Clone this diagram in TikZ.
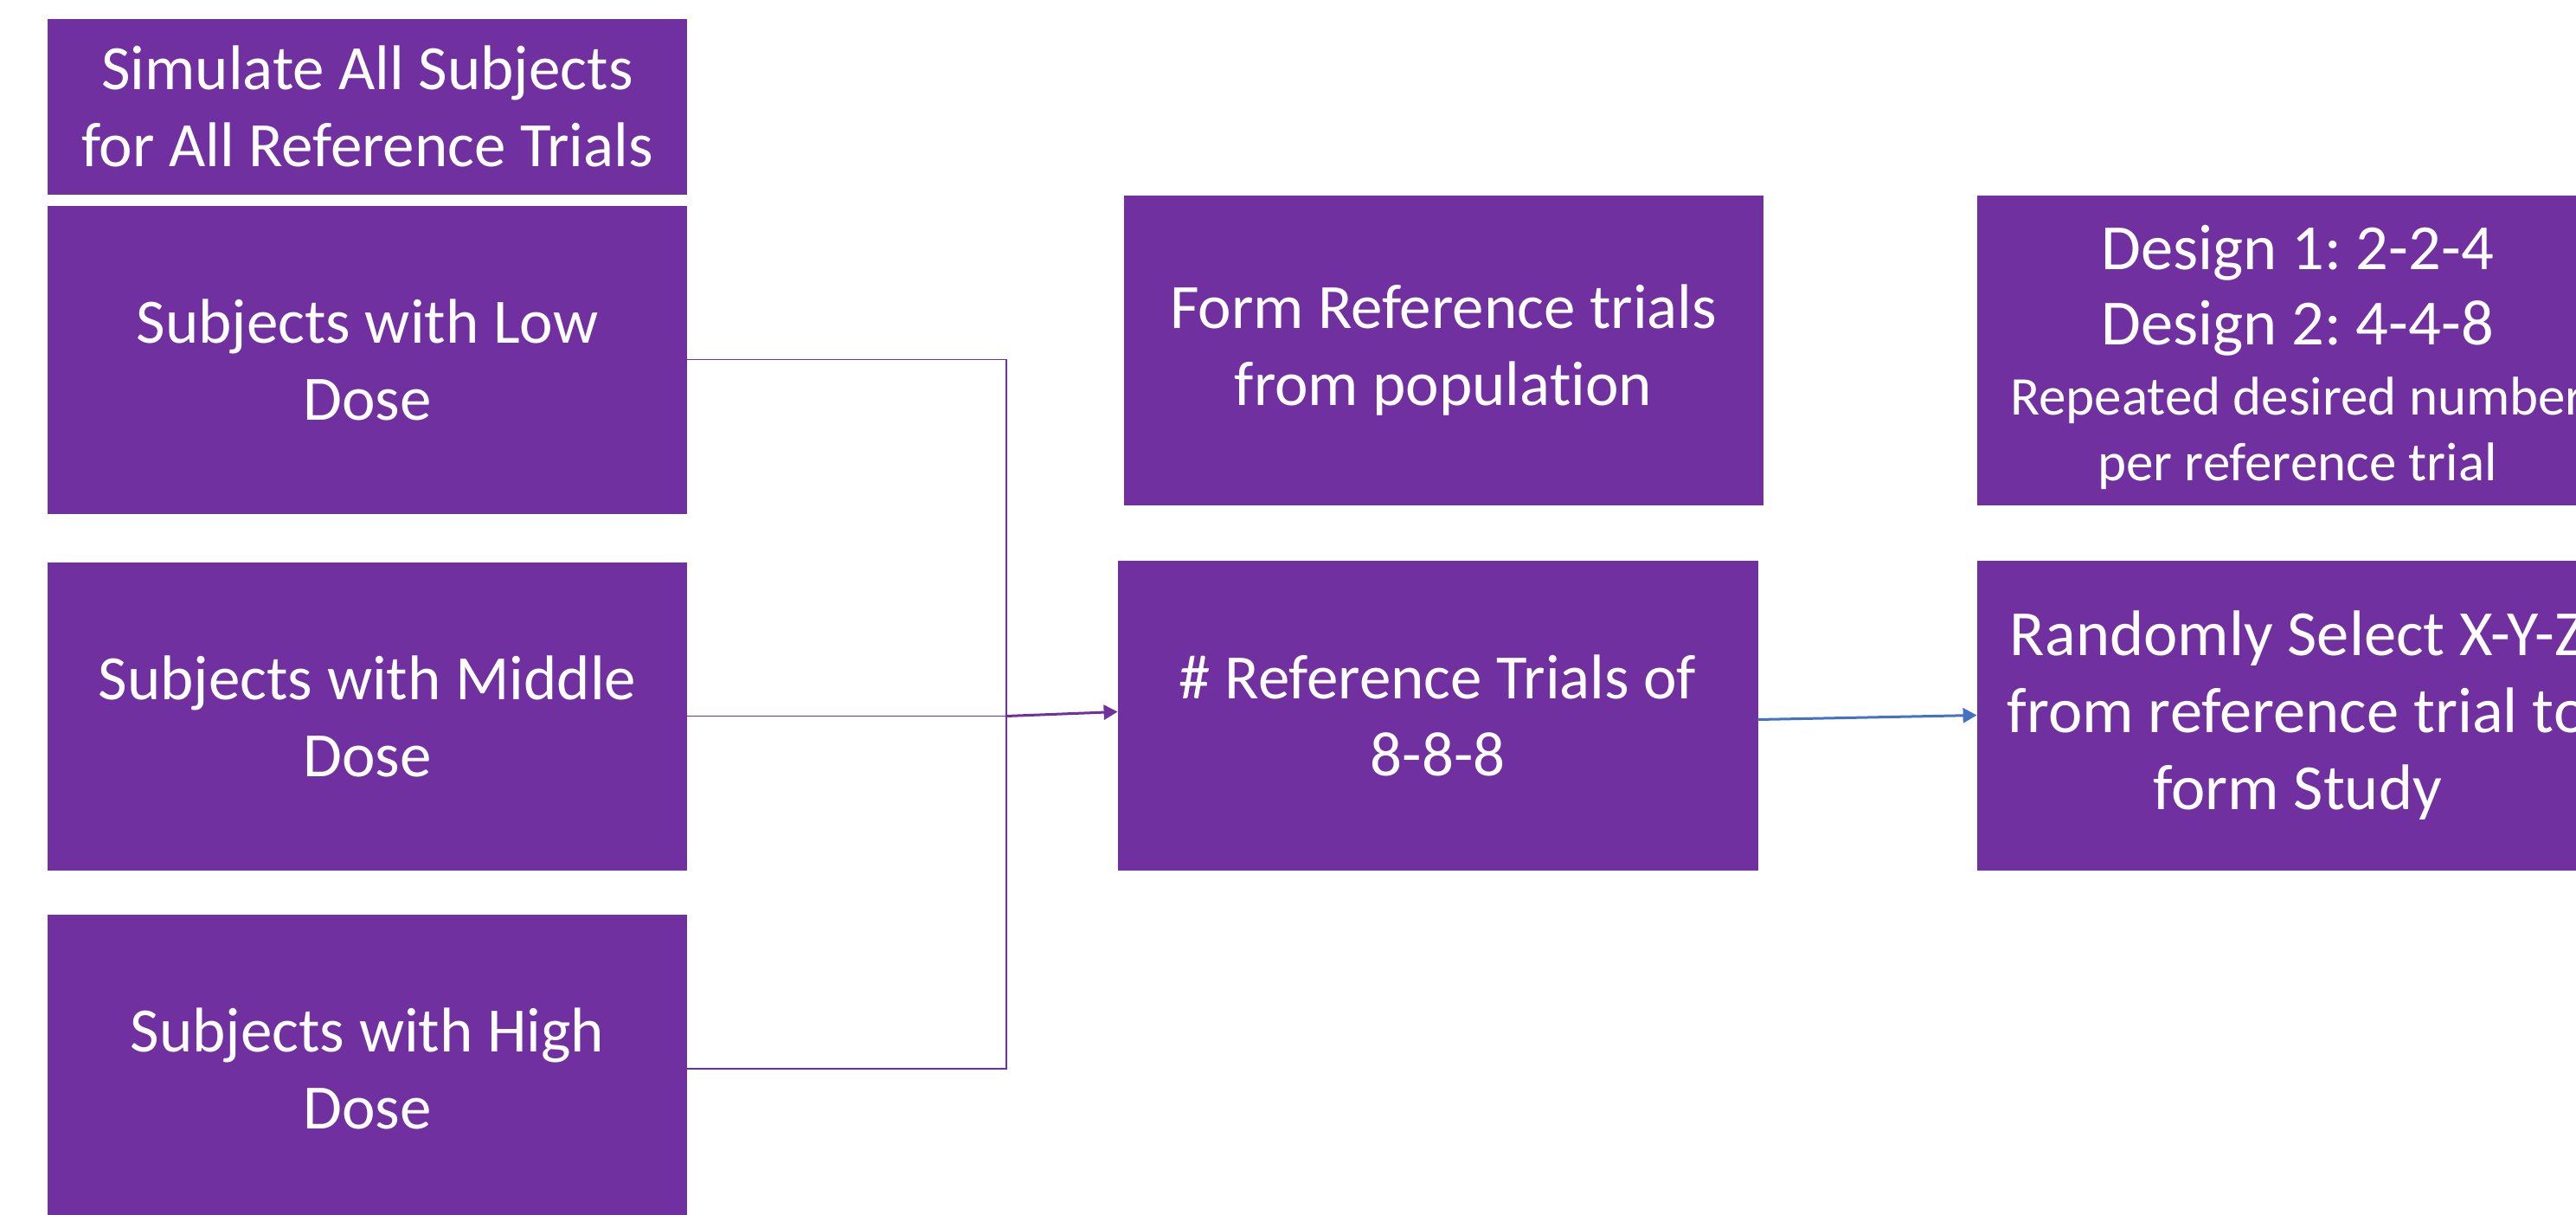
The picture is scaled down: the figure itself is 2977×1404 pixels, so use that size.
\documentclass[tikz,border=0pt]{standalone}
\usepackage{fontspec}
\setmainfont{Carlito}[Ligatures={NoCommon}]
\usetikzlibrary{arrows.meta}
\definecolor{boxpurple}{HTML}{7030A0}
\definecolor{arrowblue}{HTML}{4472C4}
\frenchspacing
\tikzset{
  box/.style={rectangle, fill=boxpurple, draw=boxpurple, line width=0.8pt,
    text=white, align=center, inner sep=0pt,
    font=\frenchspacing\fontsize{73}{89}\selectfont},
  bigbox/.style={box, font=\frenchspacing\fontsize{74.5}{89}\selectfont},
  conn/.style={draw=boxpurple, line width=1.6pt},
  mainarrow/.style={draw=boxpurple, line width=3pt, -{Triangle[length=16pt,width=17pt]}},
  bluearrow/.style={draw=arrowblue, line width=3pt, -{Triangle[length=16pt,width=17pt]}}
}
\begin{document}
\begin{tikzpicture}[x=1pt,y=-1pt]
\path[use as bounding box, clip] (0,0) rectangle (2977,1404);
\fill[white] (0,0) rectangle (2977,1404);

\node[box, minimum width=738pt, minimum height=202pt] (sim) at (424.5,123) {Simulate All Subjects\\for All Reference Trials};
\node[box, minimum width=738pt, minimum height=355pt] (low) at (424.5,415.5) {Subjects with Low\\Dose};
\node[box, minimum width=738pt, minimum height=355pt] (mid) at (424.5,827.5) {Subjects with Middle\\Dose};
\node[box, minimum width=738pt, minimum height=355pt] (high) at (424.5,1235) {Subjects with High\\Dose};

\node[box, minimum width=738pt, minimum height=357pt] (form) at (1668,404.5) {Form Reference trials\\from population};
\node[box, minimum width=739pt, minimum height=357pt] (ref) at (1661.5,826.5) {\# Reference Trials of\\8-8-8};

\node[box, minimum width=740pt, minimum height=357pt] (design) at (2655,404.5) {\begin{minipage}{740pt}\centering
\vspace*{16pt}\fontsize{74.5}{87}\selectfont Design 1: 2-2-4\par
Design 2: 4-4-8\par\vspace{5pt}
\fontsize{63}{76}\selectfont Repeated desired number\par
per reference trial\par
\end{minipage}};
\node[bigbox, minimum width=740pt, minimum height=357pt] (rand) at (2655,826.5) {Randomly Select X-Y-Z\\from reference trial to\\form Study};

\coordinate (j) at (1163,827.5);
\draw[conn] (low.east) -| (j) |- (high.east);
\draw[conn] (mid.east) -- (j);
\draw[mainarrow] (j) -- ([yshift=4pt]ref.west);
\draw[bluearrow] ([yshift=-5pt]ref.east) -- (rand.west);
\end{tikzpicture}
\end{document}
